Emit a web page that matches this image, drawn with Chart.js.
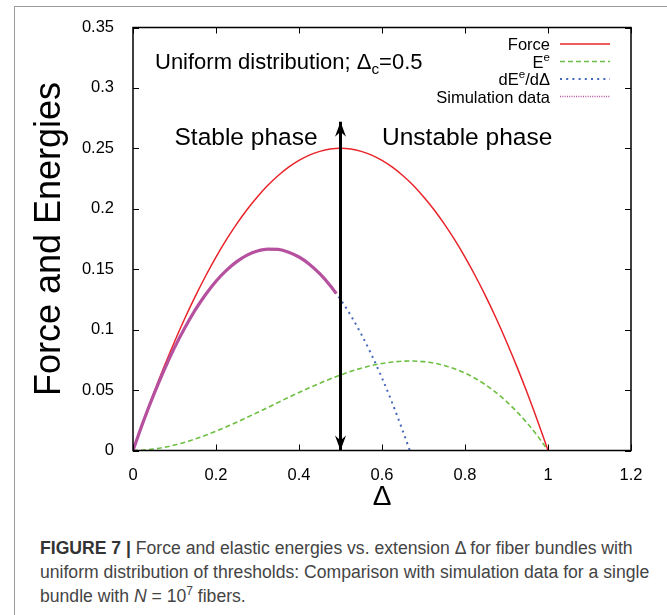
<!DOCTYPE html>
<html>
<head>
<meta charset="utf-8">
<script src="https://cdn.jsdelivr.net/npm/chart.js@4.4.1/dist/chart.umd.min.js"></script>
<style>
  html, body { margin: 0; padding: 0; background: #fff; }
  body { width: 667px; height: 615px; position: relative; overflow: hidden; font-family: "Liberation Sans", Arial, sans-serif; }
  #frame { position: absolute; left: 14px; top: 6px; right: -5px; bottom: -5px; border-left: 1px solid #9a9a9a; border-top: 1px solid #9a9a9a; }
  #wrap { position: absolute; left: 0; top: 0; width: 667px; height: 515px; }
  #caption { position: absolute; left: 40px; top: 536px; font-size: 17.6px; line-height: 24px; color: #444; white-space: nowrap; }
  #caption b { color: #333; }
  #caption i { font-style: italic; }
</style>
</head>
<body>
<div id="frame"></div>
<div id="wrap"><canvas id="chart"></canvas></div>
<div id="caption">
  <b>FIGURE 7 |</b> Force and elastic energies vs. extension Δ for fiber bundles with<br>
  uniform distribution of thresholds: Comparison with simulation data for a single<br>
  bundle with <i>N</i> = 10<sup style="font-size:12px;line-height:0">7</sup> fibers.
</div>
<script>
const FONT = '"Liberation Sans", Arial, sans-serif';

// Δ values
const xForce = [0, 0.025, 0.05, 0.075, 0.1, 0.125, 0.15, 0.175, 0.2, 0.225, 0.25, 0.275, 0.3, 0.325, 0.35, 0.375, 0.4, 0.425, 0.45, 0.475, 0.5,
  0.525, 0.55, 0.575, 0.6, 0.625, 0.65, 0.675, 0.7, 0.725, 0.75, 0.775, 0.8, 0.825, 0.85, 0.875, 0.9, 0.925, 0.95, 0.975, 1];
const yForce = [0, 0.0244, 0.0475, 0.0694, 0.09, 0.1094, 0.1275, 0.1444, 0.16, 0.1744, 0.1875, 0.1994, 0.21, 0.2194, 0.2275, 0.2344, 0.24, 0.2444, 0.2475, 0.2494, 0.25,
  0.2494, 0.2475, 0.2444, 0.24, 0.2344, 0.2275, 0.2194, 0.21, 0.1994, 0.1875, 0.1744, 0.16, 0.1444, 0.1275, 0.1094, 0.09, 0.0694, 0.0475, 0.0244, 0];

const xElastic = xForce;
const yElastic = [0, 0.0003, 0.0012, 0.0026, 0.0045, 0.0068, 0.0096, 0.0126, 0.016, 0.0196, 0.0234, 0.0274, 0.0315, 0.0356, 0.0398, 0.044, 0.048, 0.0519, 0.0557, 0.0592, 0.0625,
  0.0655, 0.0681, 0.0703, 0.072, 0.0732, 0.0739, 0.074, 0.0735, 0.0723, 0.0703, 0.0676, 0.064, 0.0596, 0.0542, 0.0479, 0.0405, 0.0321, 0.0226, 0.0119, 0];

const xDeriv = [0, 0.025, 0.05, 0.075, 0.1, 0.125, 0.15, 0.175, 0.2, 0.225, 0.25, 0.275, 0.3, 0.325, 0.35, 0.375, 0.4, 0.425, 0.45, 0.475, 0.5,
  0.525, 0.55, 0.575, 0.6, 0.625, 0.65, 0.667];
const yDeriv = [0, 0.0241, 0.0463, 0.0666, 0.085, 0.1016, 0.1163, 0.1291, 0.14, 0.1491, 0.1563, 0.1616, 0.165, 0.1666, 0.1663, 0.1641, 0.16, 0.1541, 0.1463, 0.1366, 0.125,
  0.1116, 0.0963, 0.0791, 0.06, 0.0391, 0.0163, 0];

const xSim = [0, 0.025, 0.05, 0.075, 0.1, 0.125, 0.15, 0.175, 0.2, 0.225, 0.25, 0.275, 0.3, 0.325, 0.35, 0.375, 0.4, 0.425, 0.45, 0.475, 0.49];
const ySim = [0, 0.0241, 0.0462, 0.0666, 0.0851, 0.1015, 0.1163, 0.1291, 0.1401, 0.1491, 0.1563, 0.1617, 0.1651, 0.1667, 0.1664, 0.1641, 0.1601, 0.1542, 0.1463, 0.1366, 0.1298];

// phase boundary arrow at Δ = Δc
const xArrow = [0.5, 0.5];
const yArrow = [0, 0.272];

const xTickLabels = ['0', '0.2', '0.4', '0.6', '0.8', '1', '1.2'];
const yTickLabels = ['0', '0.05', '0.1', '0.15', '0.2', '0.25', '0.3', '0.35'];

const legendLabels = [
  [{t: 'Force'}],
  [{t: 'E'}, {t: 'e', sup: true}],
  [{t: 'dE'}, {t: 'e', sup: true}, {t: '/dΔ'}],
  [{t: 'Simulation data'}],
];

const pts = (xs, ys) => xs.map((x, i) => ({x, y: ys[i]}));

function richWidth(ctx, segs, size) {
  let w = 0;
  segs.forEach(s => {
    ctx.font = `${(s.sup || s.sub) ? size * 0.7 : size}px ${FONT}`;
    w += ctx.measureText(s.t).width;
  });
  return w;
}

function drawRich(ctx, segs, x, y, size, align) {
  let cx = align === 'right' ? x - richWidth(ctx, segs, size) : x;
  ctx.textAlign = 'left';
  ctx.textBaseline = 'alphabetic';
  segs.forEach(s => {
    ctx.font = `${(s.sup || s.sub) ? size * 0.7 : size}px ${FONT}`;
    const dy = s.sup ? -size * 0.42 : s.sub ? size * 0.22 : 0;
    ctx.fillText(s.t, cx, y + dy);
    cx += ctx.measureText(s.t).width;
  });
}

// closed frame with inward ticks on all four sides
const framePlugin = {
  id: 'frame',
  afterDatasetsDraw(chart) {
    const {ctx, chartArea: a, scales: {x, y}} = chart;
    ctx.save();
    ctx.strokeStyle = '#000';
    ctx.lineWidth = 1;
    x.ticks.forEach(t => {
      const px = Math.round(x.getPixelForValue(t.value)) + 0.5;
      ctx.beginPath();
      ctx.moveTo(px, a.bottom); ctx.lineTo(px, a.bottom - 6);
      ctx.moveTo(px, a.top); ctx.lineTo(px, a.top + 6);
      ctx.stroke();
    });
    y.ticks.forEach(t => {
      const py = Math.round(y.getPixelForValue(t.value)) + 0.5;
      ctx.beginPath();
      ctx.moveTo(a.left, py); ctx.lineTo(a.left + 6, py);
      ctx.moveTo(a.right, py); ctx.lineTo(a.right - 6, py);
      ctx.stroke();
    });
    ctx.lineWidth = 1.5;
    ctx.strokeRect(a.left, a.top, a.right - a.left, a.bottom - a.top);
    ctx.restore();
  }
};

// double arrow heads + text labels
const notesPlugin = {
  id: 'notes',
  afterDatasetsDraw(chart) {
    const {ctx, scales: {x, y}} = chart;
    ctx.save();
    ctx.fillStyle = '#000';
    const ax = x.getPixelForValue(xArrow[0]);
    const head = (tipY, dir) => {
      ctx.beginPath();
      ctx.moveTo(ax, tipY);
      ctx.lineTo(ax - 5.5, tipY + dir * 15);
      ctx.lineTo(ax, tipY + dir * 10);
      ctx.lineTo(ax + 5.5, tipY + dir * 15);
      ctx.closePath();
      ctx.fill();
    };
    head(y.getPixelForValue(yArrow[1]), 1);
    head(y.getPixelForValue(yArrow[0]), -1);

    drawRich(ctx, [{t: 'Uniform distribution; Δ'}, {t: 'c', sub: true}, {t: '=0.5'}],
      x.getPixelForValue(0.053), y.getPixelForValue(0.3158), 22, 'left');
    drawRich(ctx, [{t: 'Stable phase'}], x.getPixelForValue(0.1), y.getPixelForValue(0.2529), 24.5, 'left');
    drawRich(ctx, [{t: 'Unstable phase'}], x.getPixelForValue(0.6), y.getPixelForValue(0.2529), 24.5, 'left');
    ctx.restore();
  }
};

// gnuplot style key: label right aligned, sample to the right
const keyPlugin = {
  id: 'key',
  afterDatasetsDraw(chart) {
    const {ctx, chartArea: a} = chart;
    ctx.save();
    chart.data.datasets.forEach((ds, i) => {
      if (!ds.inKey) return;
      const cy = a.top + 16.5 + i * 17.5;
      ctx.fillStyle = '#000';
      drawRich(ctx, legendLabels[i], a.right - 81, cy + 6, 16.5, 'right');
      ctx.strokeStyle = ds.borderColor;
      ctx.lineWidth = ds.keyWidth || ds.borderWidth;
      ctx.setLineDash(ds.keyDash || ds.borderDash || []);
      ctx.beginPath();
      ctx.moveTo(a.right - 71, cy);
      ctx.lineTo(a.right - 21, cy);
      ctx.stroke();
    });
    ctx.restore();
  }
};

new Chart(document.getElementById('chart'), {
  type: 'line',
  data: {
    datasets: [
      {label: 'Force', data: pts(xForce, yForce), borderColor: '#e8242a', borderWidth: 1.5, order: 2, inKey: true},
      {label: 'Ee', data: pts(xElastic, yElastic), borderColor: '#6dbf43', borderWidth: 1.6, borderDash: [5, 3], order: 3, inKey: true},
      {label: 'dEe/dD', data: pts(xDeriv, yDeriv), borderColor: '#4566bd', borderWidth: 2, borderDash: [2, 4.2], order: 4, inKey: true},
      {label: 'Simulation data', data: pts(xSim, ySim), borderColor: '#b5519f', borderWidth: 3.2, order: 1, inKey: true,
        keyDash: [1, 1.3], keyWidth: 1.5},
      {label: 'arrow', data: pts(xArrow, yArrow), borderColor: '#000', borderWidth: 3, order: 0, inKey: false},
    ]
  },
  options: {
    responsive: true,
    maintainAspectRatio: false,
    animation: false,
    devicePixelRatio: 1,
    parsing: false,
    elements: {point: {radius: 0}, line: {cubicInterpolationMode: 'monotone', fill: false, capBezierPoints: true}},
    layout: {padding: {top: 27.5, right: 36, left: 0, bottom: 0}},
    plugins: {legend: {display: false}, tooltip: {enabled: false}},
    scales: {
      x: {
        type: 'linear', min: 0, max: 1.2,
        afterFit: s => { s.height = 64.5; },
        grid: {display: false},
        border: {display: false},
        ticks: {stepSize: 0.2, padding: 7, color: '#000', font: {family: FONT, size: 16.5},
          callback: (v, i) => xTickLabels[i]},
        title: {display: true, text: 'Δ', color: '#000', font: {family: FONT, size: 28}, padding: {top: 0, bottom: 1}}
      },
      y: {
        type: 'linear', min: 0, max: 0.35,
        afterFit: s => { s.width = 133; },
        grid: {display: false},
        border: {display: false},
        ticks: {stepSize: 0.05, padding: 11, color: '#000', font: {family: FONT, size: 16.5},
          callback: (v, i) => yTickLabels[i]},
        title: {display: true, text: 'Force and Energies', color: '#000', font: {family: FONT, size: 36}, padding: {top: 28, bottom: 0}}
      }
    }
  },
  plugins: [framePlugin, notesPlugin, keyPlugin]
});
</script>
</body>
</html>
